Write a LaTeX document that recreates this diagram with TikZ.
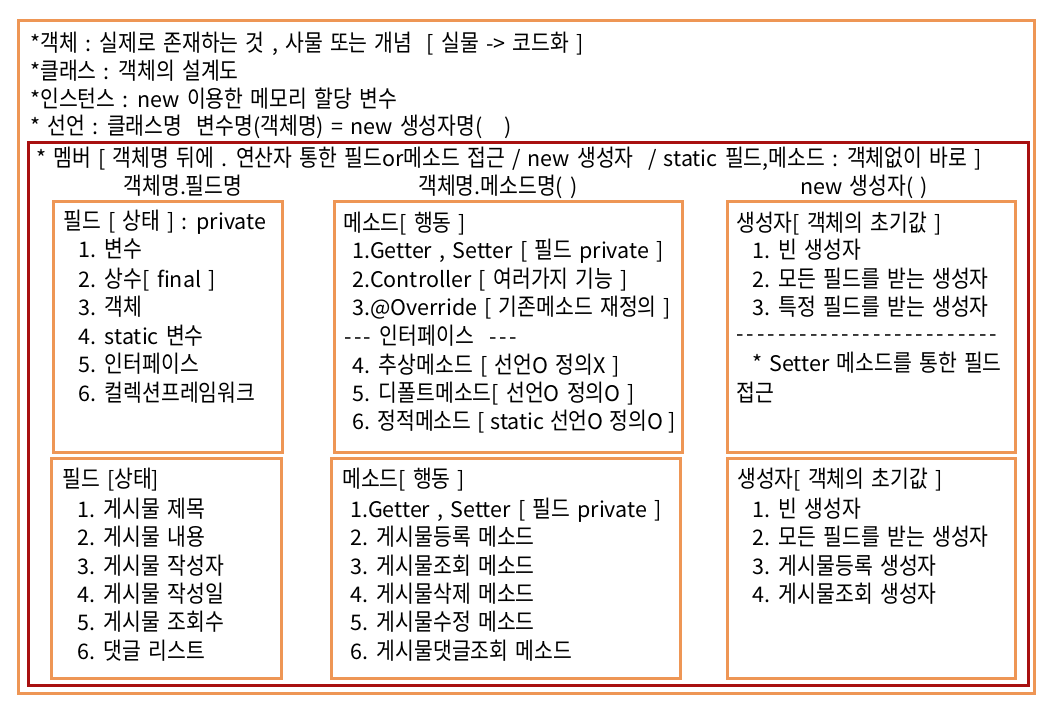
\documentclass[tikz,border=0pt]{standalone}
\usepackage{fontspec}
\setmainfont{Noto Sans CJK KR}[Ligatures=TeXOff]
\newfontfamily\hgfam{Noto Sans CJK KR}[FakeStretch=0.87,Ligatures=TeXOff]
\newfontfamily\latfam{Noto Sans CJK KR}[Ligatures=TeXOff,WordSpace=1.5]
\newcommand\hgfont{\hgfam\fontsize{23.5}{26}\selectfont}
\newcommand\latfont{\latfam\fontsize{21.5}{24}\selectfont}
\XeTeXinterchartokenstate=1
\newXeTeXintercharclass\hgclass
\newcount\hgc
\hgc="AC00
\loop
  \XeTeXcharclass\hgc=\hgclass
  \ifnum\hgc<"D7A3 \advance\hgc by 1
\repeat
\XeTeXinterchartoks 0 \hgclass={\hgfont}
\XeTeXinterchartoks 4095 \hgclass={\hgfont}
\XeTeXinterchartoks \hgclass 0={\latfont}
\XeTeXinterchartoks \hgclass 4095={\latfont}
\definecolor{og}{RGB}{238,150,85}
\definecolor{dr}{RGB}{168,16,16}
\newcommand\hh{\makebox[9.8pt]{-}}
\begin{document}
\begin{tikzpicture}[x=1pt,y=-1pt,
  txt/.style={anchor=base west,inner sep=0pt,font=\latfont},
  hdr/.style={anchor=base,inner sep=0pt,font=\latfont},
  obox/.style={draw=og,line width=3pt,inner sep=0pt,rectangle},
  rbox/.style={draw=dr,line width=3pt,inner sep=0pt,rectangle}]
\useasboundingbox[fill=white] (0,0) rectangle (1040,720);
% frames
\node[obox,minimum width=1016pt,minimum height=673pt] (outer) at (526,356.5) {};
\node[rbox,minimum width=1000pt,minimum height=543pt] (member) at (528,413.5) {};
\node[obox,minimum width=229pt,minimum height=251pt] (f1) at (167.5,326.5) {};
\node[obox,minimum width=348pt,minimum height=251pt] (m1) at (508,326.5) {};
\node[obox,minimum width=288pt,minimum height=251pt] (c1) at (871,326.5) {};
\node[obox,minimum width=230pt,minimum height=220pt] (f2) at (166,568) {};
\node[obox,minimum width=349pt,minimum height=220pt] (m2) at (505.5,568) {};
\node[obox,minimum width=288pt,minimum height=220pt] (c2) at (871,568) {};
% top lines
\node[txt] (l1) at (30,51) {*객체 : 실제로 존재하는 것 , 사물 또는 개념 \ [ 실물 -> 코드화 ]};
\node[txt] (l2) at (30,79) {*클래스 : 객체의 설계도};
\node[txt] (l3) at (30,107) {*인스턴스 : new 이용한 메모리 할당 변수};
\node[txt] (l4) at (30,134) {* 선언 : 클래스명 \ 변수명(객체명) = new 생성자명(\ \ \ )};
\node[txt] (l5) at (36,166) {* 멤버 [ 객체명 뒤에 . 연산자 통한 필드or메소드 접근 / new 생성자 \ / static 필드,메소드 : 객체없이 바로 ]};
% headers
\node[hdr] (h1) at (183,194) {객체명.필드명};
\node[hdr] (h2) at (498,194) {객체명.메소드명( )};
\node[hdr] (h3) at (864,194) {new 생성자( )};
% field box 1
\node[txt] (f1t) at (63,229) {필드 [ 상태 ] : private};
\node[txt] (f1a) at (78,257) {1. 변수};
\node[txt] (f1b) at (78,287) {2. 상수[ final ]};
\node[txt] (f1c) at (78,315) {3. 객체};
\node[txt] (f1d) at (78,344) {4. static 변수};
\node[txt] (f1e) at (78,372) {5. 인터페이스};
\node[txt] (f1f) at (78,401) {6. 컬렉션프레임워크};
% method box 1
\node[txt] (m1t) at (343,231) {메소드[ 행동 ]};
\node[txt] (m1a) at (352,258) {1.Getter , Setter [ 필드 private ]};
\node[txt] (m1b) at (352,287) {2.Controller [ 여러가지 기능 ]};
\node[txt] (m1c) at (352,315) {3.@Override [ 기존메소드 재정의 ]};
\node[txt] (m1d) at (343,344) {\hh\hh\hh{} 인터페이스 \ \hh\hh\hh};
\node[txt] (m1e) at (352,373) {4. 추상메소드 [ 선언O 정의X ]};
\node[txt] (m1f) at (352,401) {5. 디폴트메소드[ 선언O 정의O ]};
\node[txt] (m1g) at (352,429) {\spaceskip=5.8pt 6. 정적메소드 [ static 선언O 정의O ]};
% constructor box 1
\node[txt] (c1t) at (736,231) {생성자[ 객체의 초기값 ]};
\node[txt] (c1a) at (752,258) {1. 빈 생성자};
\node[txt] (c1b) at (752,287) {2. 모든 필드를 받는 생성자};
\node[txt] (c1c) at (752,315) {3. 특정 필드를 받는 생성자};
\node[txt] (c1d) at (736,341) {\hbox to 261pt{-\hfil-\hfil-\hfil-\hfil-\hfil-\hfil-\hfil-\hfil-\hfil-\hfil-\hfil-\hfil-\hfil-\hfil-\hfil-\hfil-\hfil-\hfil-\hfil-\hfil-\hfil-\hfil-\hfil-\hfil-}};
\node[txt] (c1e) at (752,371) {* Setter 메소드를 통한 필드};
\node[txt] (c1f) at (736,401) {접근};
% field box 2
\node[txt] (f2t) at (62,487) {필드 [상태]};
\node[txt] (f2a) at (77,517) {1. 게시물 제목};
\node[txt] (f2b) at (77,545) {2. 게시물 내용};
\node[txt] (f2c) at (77,574) {3. 게시물 작성자};
\node[txt] (f2d) at (77,602) {4. 게시물 작성일};
\node[txt] (f2e) at (77,630) {5. 게시물 조회수};
\node[txt] (f2f) at (77,659) {6. 댓글 리스트};
% method box 2
\node[txt] (m2t) at (342,487) {메소드[ 행동 ]};
\node[txt] (m2a) at (350,517) {1.Getter , Setter [ 필드 private ]};
\node[txt] (m2b) at (350,545) {2. 게시물등록 메소드};
\node[txt] (m2c) at (350,574) {3. 게시물조회 메소드};
\node[txt] (m2d) at (350,602) {4. 게시물삭제 메소드};
\node[txt] (m2e) at (350,630) {5. 게시물수정 메소드};
\node[txt] (m2f) at (350,659) {6. 게시물댓글조회 메소드};
% constructor box 2
\node[txt] (c2t) at (737,487) {생성자[ 객체의 초기값 ]};
\node[txt] (c2a) at (752,517) {1. 빈 생성자};
\node[txt] (c2b) at (752,545) {2. 모든 필드를 받는 생성자};
\node[txt] (c2c) at (752,574) {3. 게시물등록 생성자};
\node[txt] (c2d) at (752,602) {4. 게시물조회 생성자};
\end{tikzpicture}
\end{document}
